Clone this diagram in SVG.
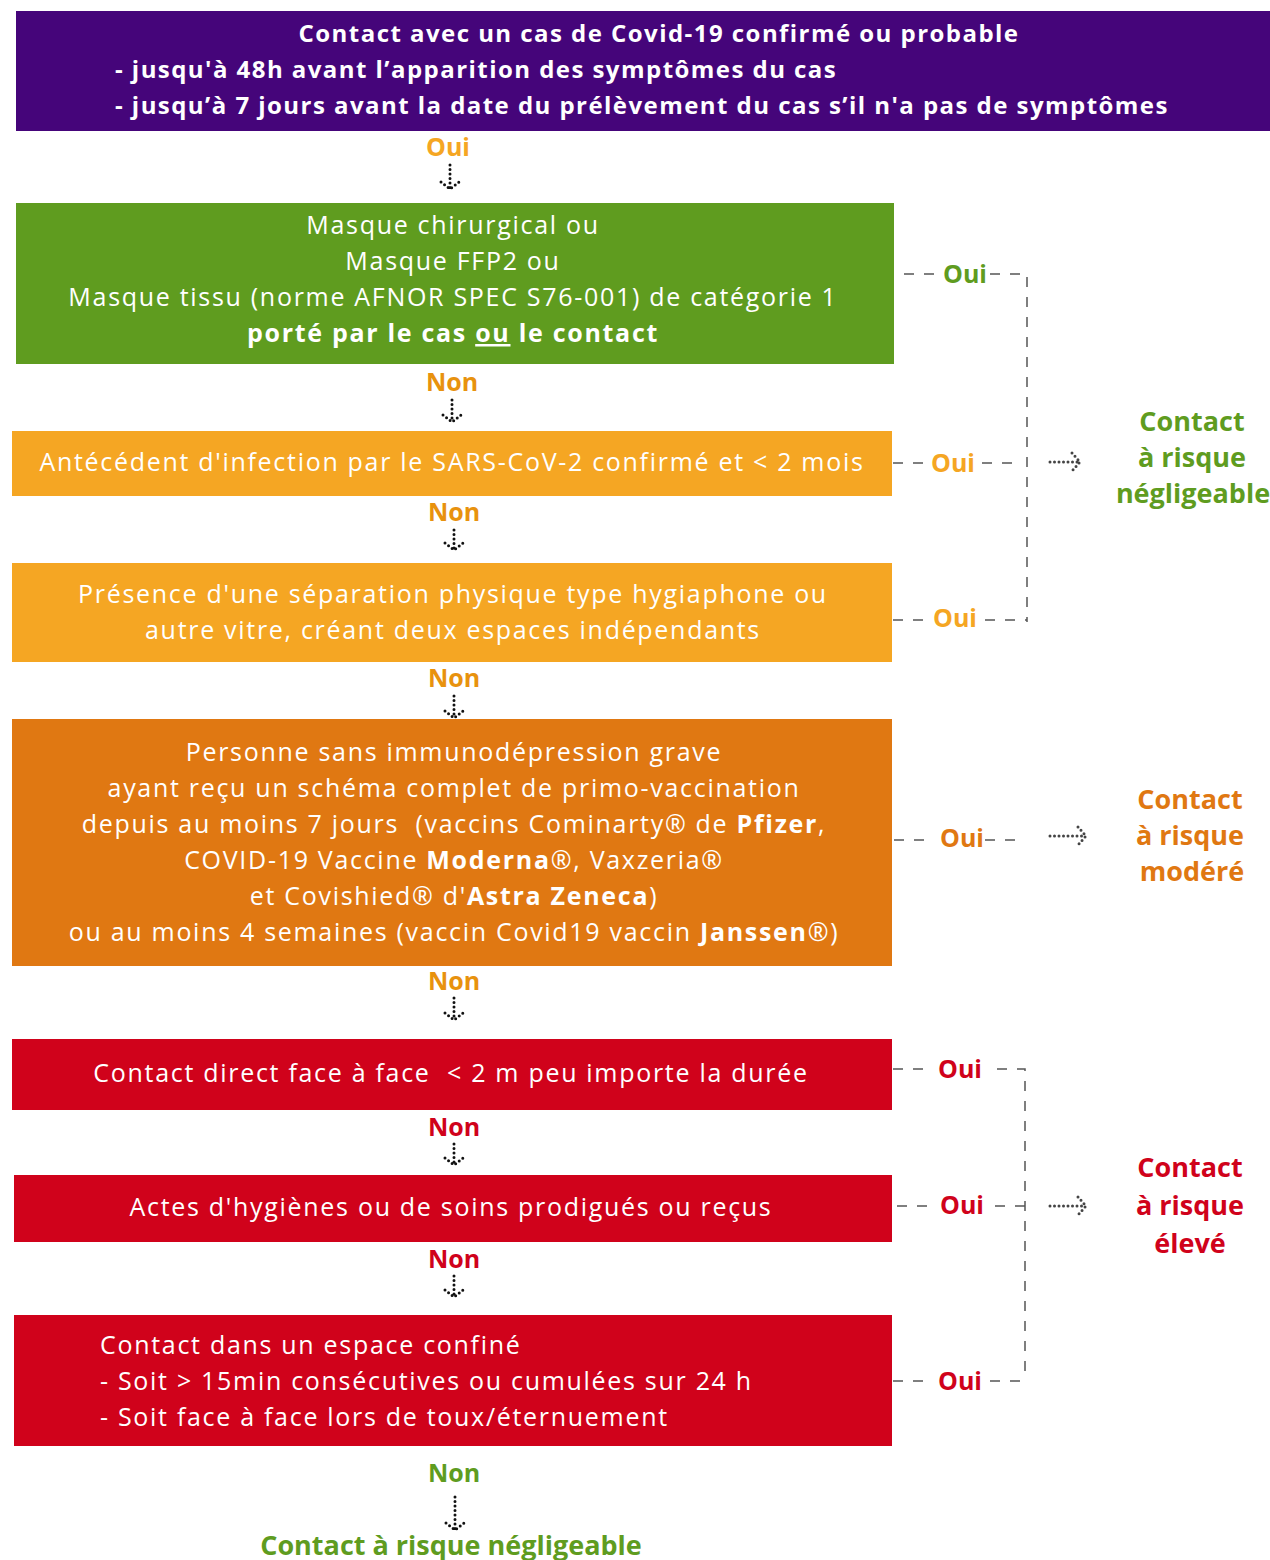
<svg xmlns="http://www.w3.org/2000/svg" width="1270" height="1560" viewBox="0 0 1270 1560">
<defs>
<style>
text{font-family:"Open Sans","Noto Sans","DejaVu Sans",sans-serif;}
.w{fill:#fff;font-size:25px;letter-spacing:1.7px;}
.c{text-anchor:middle;}
.b{font-weight:bold;}
.t{fill:#fff;font-size:24px;font-weight:bold;letter-spacing:1.45px;}
.lbl{font-size:25px;font-weight:bold;text-anchor:middle;}
.res{font-size:27px;font-weight:bold;text-anchor:middle;}
.dash{stroke:#555;stroke-width:1.5;fill:none;stroke-dasharray:10 10;}
.dot{stroke:#111;stroke-width:3;fill:none;stroke-linecap:round;stroke-dasharray:0 4.5;}
.hdot{stroke:#444;stroke-width:3;fill:none;stroke-linecap:round;stroke-dasharray:0 4.5;}
</style>
</defs>

<g id="n_top">
<rect x="16" y="11" width="1254" height="120" fill="#45057a"/>
<text class="t c" x="659" y="42">Contact avec un cas de Covid-19 confirmé ou probable</text>
<text class="t" x="115" y="78">- jusqu'à 48h avant l’apparition des symptômes du cas</text>
<text class="t" x="115" y="114">- jusqu’à 7 jours avant la date du prélèvement du cas s’il n'a pas de symptômes</text>
</g>

<g id="n_masque">
<rect x="16" y="203" width="878" height="161" fill="#5f9c1f"/>
<text class="w c" x="453" y="234">Masque chirurgical ou</text>
<text class="w c" x="453" y="270">Masque FFP2 ou</text>
<text class="w c" x="453" y="306">Masque tissu (norme AFNOR SPEC S76-001) de catégorie 1</text>
<text class="w c b" x="453" y="342">porté par le cas <tspan text-decoration="underline">ou</tspan> le contact</text>
</g>

<g id="n_antecedent">
<rect x="12" y="431" width="880" height="65" fill="#f5a623"/>
<text class="w c" x="452" y="471">Antécédent d'infection par le SARS-CoV-2 confirmé et &lt; 2 mois</text>
</g>

<g id="n_separation">
<rect x="12" y="563" width="880" height="99" fill="#f5a623"/>
<text class="w c" x="453" y="603">Présence d'une séparation physique type hygiaphone ou</text>
<text class="w c" x="453" y="639">autre vitre, créant deux espaces indépendants</text>
</g>

<g id="n_vaccin">
<rect x="12" y="719" width="880" height="247" fill="#e07812"/>
<text class="w c" x="454" y="761">Personne sans immunodépression grave</text>
<text class="w c" x="454" y="797">ayant reçu un schéma complet de primo-vaccination</text>
<text class="w c" x="454" y="833">depuis au moins 7 jours &#160;(vaccins Cominarty® de <tspan font-weight="bold">Pfizer</tspan>,</text>
<text class="w c" x="454" y="869">COVID-19 Vaccine <tspan font-weight="bold">Moderna</tspan>®, Vaxzeria®</text>
<text class="w c" x="454" y="905">et Covishied® d'<tspan font-weight="bold">Astra Zeneca</tspan>)</text>
<text class="w c" x="454" y="941">ou au moins 4 semaines (vaccin Covid19 vaccin <tspan font-weight="bold">Janssen</tspan>®)</text>
</g>

<g id="n_face">
<rect x="12" y="1039" width="880" height="71" fill="#d0021b"/>
<text class="w c" x="451" y="1082">Contact direct face à face &#160;&lt; 2 m peu importe la durée</text>
</g>

<g id="n_actes">
<rect x="14" y="1175" width="878" height="67" fill="#d0021b"/>
<text class="w c" x="451" y="1216">Actes d'hygiènes ou de soins prodigués ou reçus</text>
</g>

<g id="n_confine">
<rect x="14" y="1315" width="878" height="131" fill="#d0021b"/>
<text class="w" x="100" y="1354">Contact dans un espace confiné</text>
<text class="w" x="100" y="1390">- Soit &gt; 15min consécutives ou cumulées sur 24 h</text>
<text class="w" x="100" y="1426">- Soit face à face lors de toux/éternuement</text>
</g>

<g id="n_res_neg">
<text class="res" x="1192" y="431" fill="#5f9c1f">Contact</text>
<text class="res" x="1192" y="467" fill="#5f9c1f">à risque</text>
<text class="res" x="1193" y="503" fill="#5f9c1f">négligeable</text>
</g>

<g id="n_res_mod">
<text class="res" x="1190" y="809" fill="#e07812">Contact</text>
<text class="res" x="1190" y="845" fill="#e07812">à risque</text>
<text class="res" x="1192" y="881" fill="#e07812">modéré</text>
</g>

<g id="n_res_eleve">
<text class="res" x="1190" y="1177" fill="#d0021b" font-size="28">Contact</text>
<text class="res" x="1190" y="1215" fill="#d0021b" font-size="28">à risque</text>
<text class="res" x="1190" y="1253" fill="#d0021b" font-size="28">élevé</text>
</g>

<g id="n_final">
<text class="res" x="451" y="1555" fill="#5f9c1f" font-size="26">Contact à risque négligeable</text>
</g>

<g id="connectors">
<text class="lbl" x="448" y="156" fill="#f5a623">Oui</text>
<text class="lbl" x="452" y="391" fill="#e8920e">Non</text>
<text class="lbl" x="454" y="521" fill="#e8920e">Non</text>
<text class="lbl" x="454" y="687" fill="#e8920e">Non</text>
<text class="lbl" x="454" y="990" fill="#e8920e">Non</text>
<text class="lbl" x="454" y="1136" fill="#d0021b">Non</text>
<text class="lbl" x="454" y="1268" fill="#d0021b">Non</text>
<text class="lbl" x="454" y="1482" fill="#5f9c1f">Non</text>

<g class="dot">
<path d="M450 165 V189 M441 182 L450 189 L459 182"/>
<path d="M452 400 V422 M443 415 L452 422 L461 415"/>
<path d="M454 530 V550 M445 543 L454 550 L463 543"/>
<path d="M454 696 V718 M445 711 L454 718 L463 711"/>
<path d="M454 998 V1020 M445 1013 L454 1020 L463 1013"/>
<path d="M454 1144 V1165 M445 1158 L454 1165 L463 1158"/>
<path d="M454 1276 V1297 M445 1290 L454 1297 L463 1290"/>
<path d="M455 1497 V1530 M446 1523 L455 1530 L464 1523"/>
</g>

<text class="lbl" x="965" y="283" fill="#5f9c1f">Oui</text>
<text class="lbl" x="953" y="472" fill="#f5a623">Oui</text>
<text class="lbl" x="955" y="627" fill="#f5a623">Oui</text>
<text class="lbl" x="962" y="847" fill="#e07812">Oui</text>
<text class="lbl" x="960" y="1078" fill="#d0021b">Oui</text>
<text class="lbl" x="962" y="1214" fill="#d0021b">Oui</text>
<text class="lbl" x="960" y="1390" fill="#d0021b">Oui</text>

<g class="dash">
<path d="M904 274 H936 M990 274 H1027 V622"/>
<path d="M893 463 H926 M982 463 H1014"/>
<path d="M893 620 H926 M985 620 H1027"/>
<path d="M894 840 H926 M985 840 H1017"/>
<path d="M893 1069 H926 M997 1069 H1025 V1381"/>
<path d="M897 1206 H930 M995 1206 H1027"/>
<path d="M893 1381 H926 M990 1381 H1025"/>
</g>

<g class="hdot">
<path d="M1050 462 H1080 M1072 453 L1080 462 L1072 471"/>
<path d="M1050 836 H1086 M1078 827 L1086 836 L1078 845"/>
<path d="M1050 1206 H1086 M1078 1197 L1086 1206 L1078 1215"/>
</g>
</g>
</svg>
